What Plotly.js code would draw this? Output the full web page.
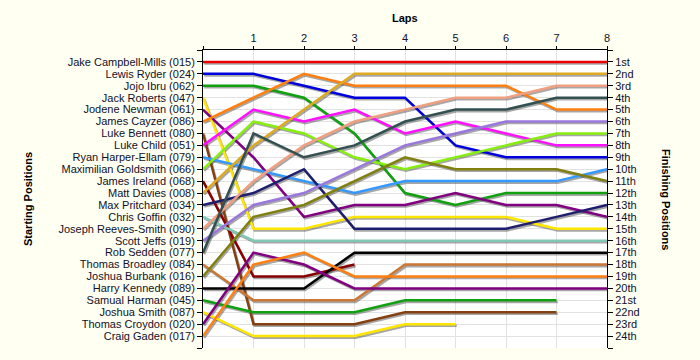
<!DOCTYPE html>
<html>
<head>
<meta charset="utf-8">
<script src="https://cdn.plot.ly/plotly-3.0.1.min.js"></script>
<style>
  html, body { margin: 0; padding: 0; background: #fffff2; }
  #chart { width: 700px; height: 360px; }
</style>
</head>
<body>
<div id="chart"></div>
<script>
// ---- Data ----
const laps = [0, 1, 2, 3, 4, 5, 6, 7, 8];
const lapTickLabels = ['', '1', '2', '3', '4', '5', '6', '7', '8'];

const drivers = [
  'Jake Campbell-Mills (015)', 'Lewis Ryder (024)', 'Jojo Ibru (062)', 'Jack Roberts (047)',
  'Jodene Newman (061)', 'James Cayzer (086)', 'Luke Bennett (080)', 'Luke Child (051)',
  'Ryan Harper-Ellam (079)', 'Maximilian Goldsmith (066)', 'James Ireland (068)', 'Matt Davies (008)',
  'Max Pritchard (034)', 'Chris Goffin (032)', 'Joseph Reeves-Smith (090)', 'Scott Jeffs (019)',
  'Rob Sedden (077)', 'Thomas Broadley (084)', 'Joshua Burbank (016)', 'Harry Kennedy (089)',
  'Samual Harman (045)', 'Joshua Smith (087)', 'Thomas Croydon (020)', 'Craig Gaden (017)'
];

const finishLabels = [
  '1st', '2nd', '3rd', '4th', '5th', '6th', '7th', '8th', '9th', '10th', '11th', '12th',
  '13th', '14th', '15th', '16th', '17th', '18th', '19th', '20th', '21st', '22nd', '23rd', '24th'
];

// Position of each driver at lap 0..8 (shorter arrays = retired)
const posJakeCampbellMills   = [1, 1, 1, 1, 1, 1, 1, 1, 1];
const posLewisRyder          = [2, 2, 3, 4, 4, 8, 9, 9, 9];
const posJojoIbru            = [3, 3, 4, 7, 12, 13, 12, 12, 12];
const posJackRoberts         = [4, 15, 15, 14, 14, 14, 14, 15, 15];
const posJodeneNewman        = [5, 9, 14, 13, 13, 12, 13, 13, 14];
const posJamesCayzer         = [6, 4, 2, 3, 3, 3, 3, 5, 5];
const posLukeBennett         = [7, 23, 23, 23, 22, 22, 22, 22];
const posLukeChild           = [8, 5, 6, 5, 7, 6, 7, 8, 8];
const posRyanHarperEllam     = [9, 10, 11, 12, 11, 11, 11, 11, 10];
const posMaximilianGoldsmith = [10, 6, 7, 9, 10, 9, 8, 7, 7];
const posJamesIreland        = [11, 19, 19, 18];
const posMattDavies          = [12, 8, 5, 2, 2, 2, 2, 2, 2];
const posMaxPritchard        = [13, 12, 10, 15, 15, 15, 15, 14, 13];
const posChrisGoffin         = [14, 16, 16, 16, 16, 16, 16, 16, 16];
const posJosephReevesSmith   = [15, 11, 8, 6, 5, 4, 4, 3, 3];
const posScottJeffs          = [16, 13, 12, 10, 8, 7, 6, 6, 6];
const posRobSedden           = [17, 7, 9, 8, 6, 5, 5, 4, 4];
const posThomasBroadley      = [18, 21, 21, 21, 18, 18, 18, 18, 18];
const posJoshuaBurbank       = [19, 14, 13, 11, 9, 10, 10, 10, 11];
const posHarryKennedy        = [20, 20, 20, 17, 17, 17, 17, 17, 17];
const posSamualHarman        = [21, 22, 22, 22, 21, 21, 21, 21];
const posJoshuaSmith         = [22, 24, 24, 24, 23, 23];
const posThomasCroydon       = [23, 17, 18, 20, 20, 20, 20, 20, 20];
const posCraigGaden          = [24, 18, 17, 19, 19, 19, 19, 19, 19];

const allPositions = [
  posJakeCampbellMills, posLewisRyder, posJojoIbru, posJackRoberts, posJodeneNewman, posJamesCayzer,
  posLukeBennett, posLukeChild, posRyanHarperEllam, posMaximilianGoldsmith, posJamesIreland, posMattDavies,
  posMaxPritchard, posChrisGoffin, posJosephReevesSmith, posScottJeffs, posRobSedden, posThomasBroadley,
  posJoshuaBurbank, posHarryKennedy, posSamualHarman, posJoshuaSmith, posThomasCroydon, posCraigGaden
];

// ---- Styles ----
const colors = [
  '#ee0000', '#0000dd', '#10a010', '#ffe600', '#800080', '#ff8010',
  '#844010', '#ff10ff', '#3399ff', '#88ee11', '#880000', '#ddaa22',
  '#1e1e6e', '#80c8b4', '#f0a080', '#9977dd', '#335050', '#cc7733',
  '#808010', '#000000', '#10a010', '#ffe600', '#800080', '#ff8010'
];

const W = 700, H = 360;
const mL = 203, mR = 93, mT = 50, mB = 12;
const plotW = W - mL - mR, plotH = H - mT - mB;
const xMin = 0, xMax = 8, yTop = 0, yBot = 25;
// shadow offset in pixels converted to data units
const sdx = 1.2 * (xMax - xMin) / plotW;
const sdy = 1.6 * (yBot - yTop) / plotH;

const traces = [];
// shadows (base, invisible axes with shifted ranges)
allPositions.forEach((p, i) => {
  traces.push({
    x: laps.slice(0, p.length), y: p, xaxis: 'x', yaxis: 'y',
    mode: 'lines', line: {color: 'rgba(60,60,60,0.45)', width: 2.5},
    hoverinfo: 'skip', showlegend: false
  });
});
// main lines
allPositions.forEach((p, i) => {
  traces.push({
    x: laps.slice(0, p.length), y: p, xaxis: 'x2', yaxis: 'y2',
    mode: 'lines', line: {color: colors[i], width: 2.5},
    name: drivers[i], showlegend: false
  });
});

const tickFont = {family: 'Liberation Sans, Arial, sans-serif', size: 11, color: '#10102a'};
const titleFont = {family: 'Liberation Sans, Arial, sans-serif', size: 11, color: '#000000', weight: 'bold'};

const posTicks = [];
for (let i = 0; i <= 25; i++) posTicks.push(i);
const leftText = [''].concat(drivers, ['']);
const rightText = [''].concat(finishLabels, ['']);

const layout = {
  width: W, height: H,
  margin: {l: mL, r: mR, t: mT, b: mB, pad: 0},
  paper_bgcolor: '#fffff2',
  plot_bgcolor: '#ffffff',
  showlegend: false,
  xaxis: {
    range: [xMin - sdx, xMax - sdx], visible: false, fixedrange: true
  },
  yaxis: {
    range: [yBot - sdy, yTop - sdy], visible: false, fixedrange: true
  },
  xaxis2: {
    overlaying: 'x', side: 'top', anchor: 'y2',
    range: [xMin, xMax], tickmode: 'array', tickvals: laps, ticktext: lapTickLabels,
    ticks: 'outside', ticklen: 3, tickcolor: '#000', tickwidth: 1,
    showline: true, linecolor: '#000', linewidth: 1, mirror: false,
    showgrid: true, gridcolor: '#e2e2e2', gridwidth: 1,
    zeroline: false, tickfont: tickFont, fixedrange: true
  },
  yaxis2: {
    overlaying: 'y', side: 'left', anchor: 'x2',
    range: [yBot, yTop], tickmode: 'array', tickvals: posTicks, ticktext: leftText,
    ticks: 'outside', ticklen: 5, tickcolor: '#000', tickwidth: 1,
    showline: true, linecolor: '#000', linewidth: 1,
    showgrid: true, gridcolor: '#e2e2e2', gridwidth: 1,
    zeroline: false, tickfont: tickFont, fixedrange: true
  },
  yaxis3: {
    overlaying: 'y', side: 'right', anchor: 'x2',
    range: [yBot, yTop], tickmode: 'array', tickvals: posTicks, ticktext: rightText,
    ticks: 'outside', ticklen: 5, tickcolor: '#000', tickwidth: 1,
    showline: true, linecolor: '#000', linewidth: 1,
    showgrid: false, zeroline: false, tickfont: tickFont, fixedrange: true
  },
  annotations: [
    {text: 'Laps', xref: 'paper', yref: 'paper', x: 0.5, y: (H - mB - 18) / plotH,
     xanchor: 'center', yanchor: 'middle', showarrow: false, font: titleFont},
    {text: 'Starting Positions', xref: 'paper', yref: 'paper', x: (28 - mL) / plotW, y: 0.5,
     xanchor: 'center', yanchor: 'middle', textangle: -90, showarrow: false, font: titleFont},
    {text: 'Finishing Positions', xref: 'paper', yref: 'paper', x: (666 - mL) / plotW, y: 0.5,
     xanchor: 'center', yanchor: 'middle', textangle: 90, showarrow: false, font: titleFont}
  ]
};

// dummy invisible trace so the right axis is realised
traces.push({x: [null], y: [null], xaxis: 'x2', yaxis: 'y3', mode: 'lines', hoverinfo: 'skip', showlegend: false});

Plotly.newPlot('chart', traces, layout, {staticPlot: true, displayModeBar: false});
</script>
</body>
</html>
